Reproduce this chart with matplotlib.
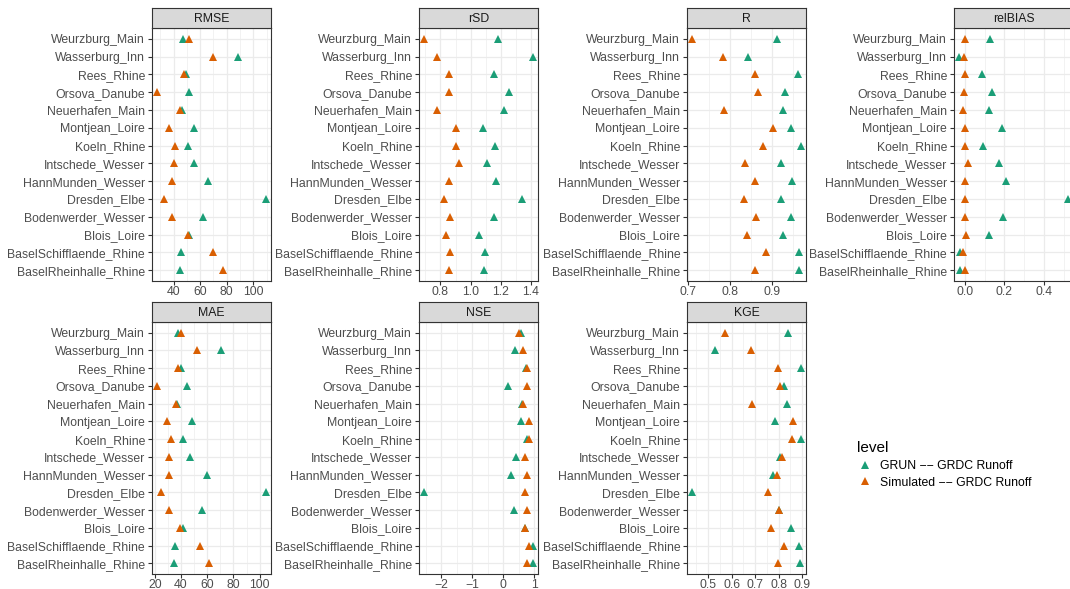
import matplotlib
matplotlib.use("Agg")
import matplotlib.pyplot as plt
from matplotlib.lines import Line2D
import numpy as np

plt.rcParams['font.family'] = ['Liberation Sans', 'DejaVu Sans']

# ---------------- data ----------------
stations = ["Weurzburg_Main", "Wasserburg_Inn", "Rees_Rhine", "Orsova_Danube",
            "Neuerhafen_Main", "Montjean_Loire", "Koeln_Rhine", "Intschede_Wesser",
            "HannMunden_Wesser", "Dresden_Elbe", "Bodenwerder_Wesser", "Blois_Loire",
            "BaselSchifflaende_Rhine", "BaselRheinhalle_Rhine"]

series_labels = ["GRUN \u2212\u2212 GRDC Runoff", "Simulated \u2212\u2212 GRDC Runoff"]

rmse_grun = [47.4, 88.8, 49.2, 51.2, 46.2, 55.6, 50.7, 55.1, 66.0, 109.2, 62.3, 51.9, 45.2, 44.7]
rmse_sim = [51.9, 69.8, 47.7, 27.8, 45.0, 36.8, 41.2, 40.2, 39.0, 32.8, 39.0, 50.7, 70.0, 77.4]

rsd_grun = [1.18, 1.413, 1.159, 1.254, 1.22, 1.08, 1.161, 1.107, 1.17, 1.341, 1.157, 1.054, 1.098, 1.091]
rsd_sim = [0.693, 0.778, 0.859, 0.857, 0.778, 0.90, 0.90, 0.926, 0.857, 0.824, 0.863, 0.839, 0.863, 0.859]

r_grun = [0.912, 0.843, 0.963, 0.931, 0.928, 0.947, 0.969, 0.923, 0.948, 0.923, 0.945, 0.927, 0.965, 0.966]
r_sim = [0.710, 0.783, 0.860, 0.868, 0.786, 0.904, 0.879, 0.836, 0.859, 0.834, 0.863, 0.840, 0.887, 0.861]

relbias_grun = [0.128, -0.028, 0.084, 0.138, 0.124, 0.188, 0.090, 0.171, 0.210, 0.52, 0.193, 0.121, -0.024, -0.024]
relbias_sim = [0.0, -0.003, 0.0, -0.005, -0.012, 0.0, 0.0, 0.014, 0.0, 0.0, 0.0, 0.003, -0.009, 0.0]

mae_grun = [37.6, 70.3, 40.1, 44.7, 36.9, 48.2, 41.6, 46.9, 60.0, 104.5, 56.0, 41.4, 35.6, 34.8]
mae_sim = [39.9, 52.2, 37.6, 22.0, 36.1, 29.6, 32.6, 31.1, 30.8, 25.0, 30.6, 39.4, 54.2, 61.3]

nse_grun = [0.585, 0.37, 0.745, 0.16, 0.60, 0.585, 0.755, 0.426, 0.245, -2.55, 0.36, 0.70, 0.947, 0.947]
nse_sim = [0.52, 0.64, 0.755, 0.766, 0.63, 0.84, 0.84, 0.70, 0.755, 0.70, 0.755, 0.70, 0.82, 0.755]

kge_grun = [0.841, 0.531, 0.894, 0.823, 0.838, 0.783, 0.894, 0.806, 0.778, 0.433, 0.80, 0.851, 0.886, 0.893]
kge_sim = [0.570, 0.684, 0.796, 0.806, 0.689, 0.863, 0.859, 0.816, 0.795, 0.755, 0.80, 0.768, 0.824, 0.799]

metrics = ["RMSE", "rSD", "R", "relBIAS", "MAE", "NSE", "KGE"]
grun = {"RMSE": rmse_grun, "rSD": rsd_grun, "R": r_grun, "relBIAS": relbias_grun,
        "MAE": mae_grun, "NSE": nse_grun, "KGE": kge_grun}
sim = {"RMSE": rmse_sim, "rSD": rsd_sim, "R": r_sim, "relBIAS": relbias_sim,
       "MAE": mae_sim, "NSE": nse_sim, "KGE": kge_sim}

major_ticks = {"RMSE": [40, 60, 80, 100], "rSD": [0.8, 1.0, 1.2, 1.4],
               "R": [0.7, 0.8, 0.9], "relBIAS": [0.0, 0.2, 0.4],
               "MAE": [20, 40, 60, 80, 100], "NSE": [-2, -1, 0, 1],
               "KGE": [0.5, 0.6, 0.7, 0.8, 0.9]}
tick_labels = {"RMSE": ["40", "60", "80", "100"], "rSD": ["0.8", "1.0", "1.2", "1.4"],
               "R": ["0.7", "0.8", "0.9"], "relBIAS": ["0.0", "0.2", "0.4"],
               "MAE": ["20", "40", "60", "80", "100"], "NSE": ["\u22122", "\u22121", "0", "1"],
               "KGE": ["0.5", "0.6", "0.7", "0.8", "0.9"]}

# ---------------- style / layout ----------------
W, H = 1070, 589
col_grun = "#1B9E77"
col_sim = "#D95F02"
grid_col = "#EBEBEB"
border_col = "#333333"
text_col = "#4D4D4D"

col_left = [152, 419, 687, 954]
panel_w = 119
strip_rows = [(8, 28), (302, 322)]
panel_rows = [(28, 281), (322, 574)]

fig = plt.figure(figsize=(W / 100, H / 100), dpi=100)
fig.patch.set_facecolor("white")

n = len(stations)
ypos = np.arange(1, n + 1)

for k, m in enumerate(metrics):
    r, c = divmod(k, 4)
    left = col_left[c]
    ptop, pbot = panel_rows[r]
    stop, sbot = strip_rows[r]

    ax = fig.add_axes([left / W, 1 - pbot / H, panel_w / W, (pbot - ptop) / H])
    g = np.asarray(grun[m], float)
    s = np.asarray(sim[m], float)
    lo = min(g.min(), s.min())
    hi = max(g.max(), s.max())
    pad = 0.05 * (hi - lo)
    xlo, xhi = lo - pad, hi + pad
    ax.set_xlim(xlo, xhi)
    ax.set_ylim(n + 0.6, 0.4)

    ticks = major_ticks[m]
    step = ticks[1] - ticks[0]
    minors = np.arange(ticks[0] - step / 2 - 10 * step, xhi, step)
    minors = [v for v in minors if xlo <= v <= xhi]
    for v in minors:
        ax.axvline(v, color=grid_col, lw=0.45, zorder=0)
    for v in ticks:
        ax.axvline(v, color=grid_col, lw=0.9, zorder=0)
    for yy in ypos:
        ax.axhline(yy, color=grid_col, lw=0.9, zorder=0)

    ax.plot(g, ypos, ls="", marker="^", ms=5.8, mew=0, color=col_grun, zorder=3)
    ax.plot(s, ypos, ls="", marker="^", ms=5.8, mew=0, color=col_sim, zorder=4)

    ax.set_xticks(ticks)
    ax.set_xticklabels(tick_labels[m])
    ax.set_yticks(ypos)
    ax.set_yticklabels(stations)
    ax.tick_params(axis="both", which="major", length=2.75, width=0.8, color=border_col,
                   labelcolor=text_col, labelsize=8.8, pad=2.2)
    ax.tick_params(axis="x", pad=0.5)
    for sp in ax.spines.values():
        sp.set_color(border_col)
        sp.set_linewidth(0.8)
    ax.set_facecolor("white")

    sax = fig.add_axes([left / W, 1 - sbot / H, panel_w / W, (sbot - stop) / H])
    sax.set_facecolor("#D9D9D9")
    sax.set_xticks([])
    sax.set_yticks([])
    for sp in sax.spines.values():
        sp.set_color(border_col)
        sp.set_linewidth(0.8)
    sax.text(0.5, 0.45, m, ha="center", va="center", fontsize=8.8, color="#1A1A1A",
             transform=sax.transAxes)

handles = [Line2D([], [], ls="", marker="^", ms=5.8, mew=0, color=col_grun),
           Line2D([], [], ls="", marker="^", ms=5.8, mew=0, color=col_sim)]
leg = fig.legend(handles, series_labels, loc="upper left",
                 bbox_to_anchor=(857 / W, 1 - 441 / H), frameon=False,
                 title="level", alignment="left", fontsize=8.8, title_fontsize=11,
                 borderpad=0, borderaxespad=0, handlelength=1.3, handletextpad=0.6,
                 labelspacing=0.4)
leg.get_title().set_color("black")
for t in leg.get_texts():
    t.set_color("black")

fig.savefig("out.png", dpi=100)
